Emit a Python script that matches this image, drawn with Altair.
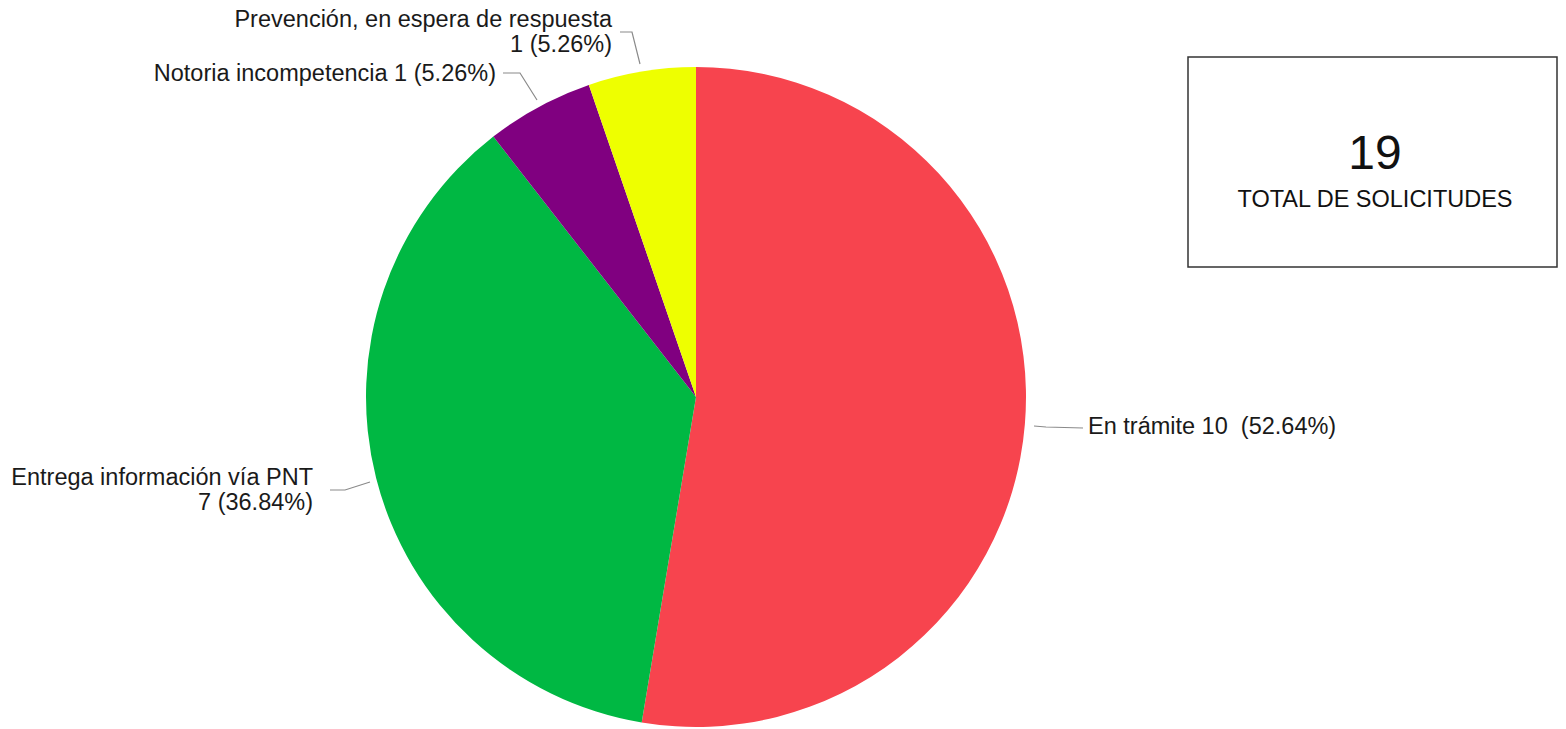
import altair as alt
import pandas as pd

# ---- data ----
categories = ["En trámite", "Entrega información vía PNT",
              "Notoria incompetencia", "Prevención, en espera de respuesta"]
counts = [10, 7, 1, 1]
percents = [52.64, 36.84, 5.26, 5.26]
total = 19
total_label = "TOTAL DE SOLICITUDES"

# ---- styles ----
colors = ["#F7444E", "#00B843", "#800080", "#EEFF00"]
FONT = "Liberation Sans"
FS = 23.5
W, H = 1550, 721
CX, CY, R = 688, 389, 330

pie_df = pd.DataFrame({"cat": categories, "n": counts, "ord": list(range(len(categories)))})

pie = alt.Chart(pie_df).mark_arc(outerRadius=R, stroke=None).encode(
    theta=alt.Theta("n:Q", stack=True),
    order=alt.Order("ord:Q"),
    color=alt.Color("cat:N", scale=alt.Scale(domain=categories, range=colors), legend=None),
    x=alt.value(CX), y=alt.value(CY),
)

# label text lines built from the data
def label_lines(cat, n, p):
    if cat == "En trámite":
        return [f"{cat} {n}\u00a0 ({p:.2f}%)"]
    if cat in ("Entrega información vía PNT", "Prevención, en espera de respuesta"):
        return [cat, f"{n} ({p:.2f}%)"]
    return [f"{cat} {n} ({p:.2f}%)"]

# layout (pixel positions) for labels
label_pos = {
    "En trámite": (1080, 419, "left"),
    "Entrega información vía PNT": (305, 470, "right"),
    "Notoria incompetencia": (488, 66, "right"),
    "Prevención, en espera de respuesta": (604, 12, "right"),
}
LINE_H = 25

rows = []
for c, n, p in zip(categories, counts, percents):
    x, y, a = label_pos[c]
    for i, t in enumerate(label_lines(c, n, p)):
        rows.append({"t": t, "x": x, "y": y + i * LINE_H, "a": a})
lab_df = pd.DataFrame(rows)

def text_layer(df, align):
    return alt.Chart(df).mark_text(
        align=align, baseline="middle", font=FONT, fontSize=FS, color="#1a1a1a"
    ).encode(
        x=alt.X("x:Q", scale=None, axis=None),
        y=alt.Y("y:Q", scale=None, axis=None),
        text="t:N",
    )

labels_left = text_layer(lab_df[lab_df.a == "left"], "left")
labels_right = text_layer(lab_df[lab_df.a == "right"], "right")

# leader lines layout
leaders = {
    "En trámite": [(1026, 418), (1038, 419), (1075, 420)],
    "Entrega información vía PNT": [(322, 482), (337, 482), (362, 474)],
    "Notoria incompetencia": [(495, 65), (512, 65), (529, 92)],
    "Prevención, en espera de respuesta": [(612, 24), (624, 24), (632, 56)],
}
lrows = []
for c in categories:
    for k, (x, y) in enumerate(leaders[c]):
        lrows.append({"cat": c, "k": k, "x": x, "y": y})
lead_df = pd.DataFrame(lrows)

lead = alt.Chart(lead_df).mark_line(color="#8a8a8a", strokeWidth=1.2).encode(
    x=alt.X("x:Q", scale=None, axis=None),
    y=alt.Y("y:Q", scale=None, axis=None),
    detail="cat:N",
    order="k:Q",
)

# total box
box = alt.Chart(pd.DataFrame({"v": [total]})).mark_rect(
    fill="white", stroke="#333333", strokeWidth=1.5
).encode(
    x=alt.value(1180), x2=alt.value(1549), y=alt.value(49), y2=alt.value(259)
)
big = alt.Chart(pd.DataFrame({"v": [str(total)]})).mark_text(
    align="center", baseline="middle", font=FONT, fontSize=48, color="#111111"
).encode(x=alt.value(1367), y=alt.value(147), text="v:N")
sub = alt.Chart(pd.DataFrame({"v": [total_label]})).mark_text(
    align="center", baseline="middle", font=FONT, fontSize=FS, color="#111111"
).encode(x=alt.value(1367), y=alt.value(192), text="v:N")

chart = alt.layer(pie, lead, labels_left, labels_right, box, big, sub).properties(
    width=W, height=H, padding=0, autosize=alt.AutoSizeParams(type="none"),
    background="white",
).configure_view(stroke=None)

chart.save("out.html", embed_options={"renderer": "svg", "actions": False})
